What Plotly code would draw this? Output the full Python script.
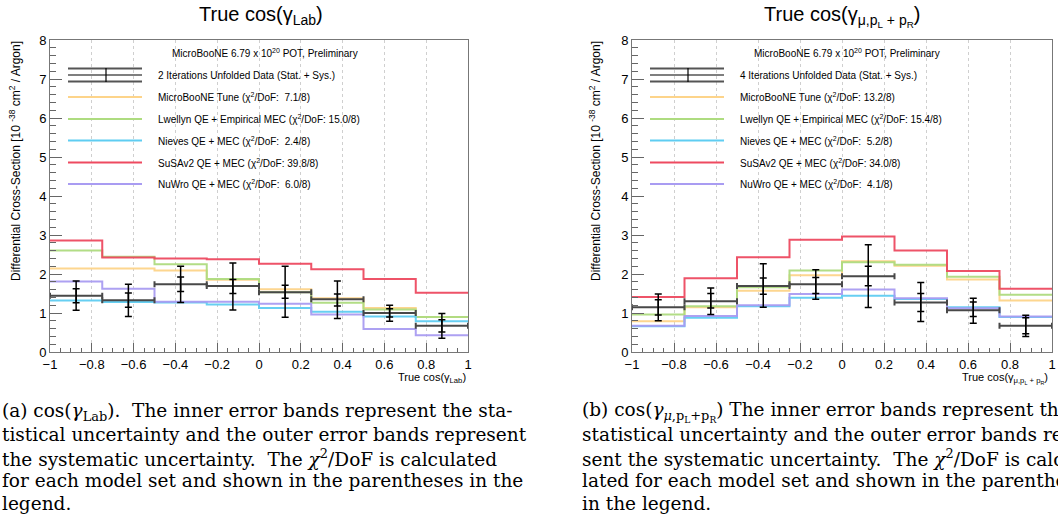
import plotly.graph_objects as go

W, H = 1058, 529

# ---------------- data ----------------
edges = [-1.0, -0.75, -0.5, -0.25, 0.0, 0.25, 0.5, 0.75, 1.0]
centers = [-0.875, -0.625, -0.375, -0.125, 0.125, 0.375, 0.625, 0.875]
half_width = [0.125] * 8

model_names = ["MicroBooNE Tune", "Lwellyn QE + Empirical MEC", "Nieves QE + MEC",
               "SuSAv2 QE + MEC", "NuWro QE + MEC"]
model_colors = ["#fdd48a", "#aedc80", "#5fcdf2", "#ee4a60", "#a99cf2"]

# panel (a): cos(gamma_Lab)
chi2_a = ["7.1/8", "15.0/8", "2.4/8", "39.8/8", "6.0/8"]
tune_a = [2.14, 2.14, 2.09, 1.85, 1.61, 1.38, 1.13, 0.90]
lwellyn_a = [2.60, 2.44, 2.25, 1.87, 1.53, 1.26, 1.09, 0.90]
nieves_a = [1.32, 1.28, 1.27, 1.22, 1.13, 1.03, 0.91, 0.79]
susav2_a = [2.86, 2.42, 2.40, 2.38, 2.26, 2.12, 1.87, 1.52]
nuwro_a = [1.81, 1.62, 1.29, 1.29, 1.24, 0.96, 0.59, 0.43]
data_a = [1.44, 1.33, 1.74, 1.69, 1.53, 1.35, 1.00, 0.67]
stat_lo_a = [1.26, 1.15, 1.55, 1.50, 1.38, 1.18, 0.90, 0.51]
stat_hi_a = [1.62, 1.51, 1.92, 1.86, 1.71, 1.49, 1.11, 0.83]
tot_lo_a = [1.07, 0.91, 1.27, 1.08, 0.89, 0.86, 0.79, 0.35]
tot_hi_a = [1.82, 1.74, 2.20, 2.28, 2.20, 1.82, 1.20, 0.99]

# panel (b): cos(gamma_mu,pL+pR)
chi2_b = ["13.2/8", "15.4/8", "5.2/8", "34.0/8", "4.1/8"]
tune_b = [0.79, 1.15, 1.57, 1.97, 2.33, 2.21, 1.86, 1.32]
lwellyn_b = [0.96, 1.17, 1.66, 2.09, 2.30, 2.24, 1.93, 1.47]
nieves_b = [0.66, 0.88, 1.17, 1.39, 1.44, 1.36, 1.15, 0.90]
susav2_b = [1.41, 1.89, 2.43, 2.88, 2.96, 2.60, 2.08, 1.62]
nuwro_b = [0.67, 0.92, 1.20, 1.49, 1.60, 1.38, 1.12, 0.91]
data_b = [1.15, 1.30, 1.69, 1.74, 1.94, 1.27, 1.07, 0.67]
stat_lo_b = [0.95, 1.13, 1.48, 1.50, 1.70, 1.04, 0.91, 0.47]
stat_hi_b = [1.34, 1.50, 1.90, 1.91, 2.20, 1.50, 1.28, 0.88]
tot_lo_b = [0.80, 0.96, 1.15, 1.35, 1.14, 0.78, 0.74, 0.40]
tot_hi_b = [1.49, 1.64, 2.26, 2.11, 2.75, 1.78, 1.38, 0.94]

x_ticks = [-1, -0.8, -0.6, -0.4, -0.2, 0, 0.2, 0.4, 0.6, 0.8, 1]
y_ticks = [0, 1, 2, 3, 4, 5, 6, 7, 8]

panels = [
    dict(models=[tune_a, lwellyn_a, nieves_a, susav2_a, nuwro_a], chi2=chi2_a,
         data=data_a, slo=stat_lo_a, shi=stat_hi_a, tlo=tot_lo_a, thi=tot_hi_a,
         iters="2 Iterations Unfolded Data (Stat. + Sys.)",
         title="True cos(γ<sub>Lab</sub>)", xtitle="True cos(γ<sub>Lab</sub>)",
         px0=50, px1=468, title_cx=261, ytitle_cx=15, xtitle_right=468),
    dict(models=[tune_b, lwellyn_b, nieves_b, susav2_b, nuwro_b], chi2=chi2_b,
         data=data_b, slo=stat_lo_b, shi=stat_hi_b, tlo=tot_lo_b, thi=tot_hi_b,
         iters="4 Iterations Unfolded Data (Stat. + Sys.)",
         title="True cos(γ<sub>μ,p<sub>L</sub> + p<sub>R</sub></sub>)",
         xtitle="True cos(γ<sub>μ,p<sub>L</sub> + p<sub>R</sub></sub>)",
         px0=632, px1=1052, title_cx=842, ytitle_cx=595, xtitle_right=1050),
]

PY_TOP, PY_BOT = 40, 352  # pixel rows of y=8 and y=0


def pxx(p):
    return p / W


def pxy(p):
    return 1 - p / H


SANS = "Liberation Sans, Arial, sans-serif"
SERIF = "DejaVu Serif, serif"

fig = go.Figure()
annotations = []
shapes = []

for i, P in enumerate(panels):
    ax = "" if i == 0 else str(i + 1)
    xref, yref = "x" + ax, "y" + ax
    # model step histograms
    for name, vals, col in zip(model_names, P["models"], model_colors):
        fig.add_trace(go.Scatter(
            x=edges, y=list(vals) + [vals[-1]], mode="lines",
            line=dict(color=col, width=2, shape="hv"), opacity=0.95,
            xaxis=xref, yaxis=yref, showlegend=False, hoverinfo="skip"))
    # data: total uncertainty
    d = P["data"]
    fig.add_trace(go.Scatter(
        x=centers, y=d, mode="markers", marker=dict(size=1, color="black"),
        error_y=dict(type="data", symmetric=False,
                     array=[h - v for h, v in zip(P["thi"], d)],
                     arrayminus=[v - l for l, v in zip(P["tlo"], d)],
                     color="black", thickness=1.5, width=3.5),
        error_x=dict(type="data", array=half_width, color="#484848",
                     thickness=2, width=3),
        xaxis=xref, yaxis=yref, showlegend=False, hoverinfo="skip"))
    # data: statistical uncertainty
    fig.add_trace(go.Scatter(
        x=centers, y=d, mode="markers", marker=dict(size=1, color="black"),
        error_y=dict(type="data", symmetric=False,
                     array=[h - v for h, v in zip(P["shi"], d)],
                     arrayminus=[v - l for l, v in zip(P["slo"], d)],
                     color="black", thickness=1.5, width=3.5),
        xaxis=xref, yaxis=yref, showlegend=False, hoverinfo="skip"))

    # ---- legend (drawn inside the axes) ----
    span = (P["px1"] - P["px0"]) / 2.0

    def dx(px, P=P, span=span):
        return -1 + (px - P["px0"]) / span

    def dy(py):
        return 8 * (PY_BOT - py) / (PY_BOT - PY_TOP)

    off = P["px0"] - 50
    lx0, lx1, tx = dx(68 + off), dx(142 + off), dx(156 + off)
    annotations.append(dict(
        x=dx(265 + off), y=dy(53), xref=xref, yref=yref, showarrow=False,
        text="MicroBooNE 6.79 x 10<sup>20</sup> POT, Preliminary",
        font=dict(family=SANS, size=10, color="black"), xanchor="center"))
    # data entry
    for py, col, wd in [(68.5, "#555555", 2), (75, "black", 1.2), (81.5, "#555555", 2)]:
        shapes.append(dict(type="line", xref=xref, yref=yref, x0=lx0, x1=lx1,
                           y0=dy(py), y1=dy(py), line=dict(color=col, width=wd)))
    shapes.append(dict(type="line", xref=xref, yref=yref, x0=dx(106 + off), x1=dx(106 + off),
                       y0=dy(68), y1=dy(82), line=dict(color="black", width=1.2)))
    annotations.append(dict(x=tx, y=dy(75), xref=xref, yref=yref, showarrow=False,
                            text=P["iters"], xanchor="left",
                            font=dict(family=SANS, size=10, color="black")))
    rows = [97, 119, 140.5, 162.5, 184]
    for name, col, c2, py in zip(model_names, model_colors, P["chi2"], rows):
        shapes.append(dict(type="line", xref=xref, yref=yref, x0=lx0, x1=lx1,
                           y0=dy(py), y1=dy(py), line=dict(color=col, width=2)))
        c2txt = c2 if len(c2) >= 6 else "\u00a0" + c2
        annotations.append(dict(
            x=tx, y=dy(py), xref=xref, yref=yref, showarrow=False, xanchor="left",
            text=f"{name} (χ<sup>2</sup>/DoF: {c2txt})",
            font=dict(family=SANS, size=10, color="black")))

    # titles
    annotations.append(dict(x=pxx(P["title_cx"]), y=pxy(1), xref="paper", yref="paper",
                            showarrow=False, xanchor="center", yanchor="top",
                            text=P["title"], font=dict(family=SANS, size=20, color="black")))
    annotations.append(dict(x=pxx(P["ytitle_cx"]), y=pxy(PY_TOP - 1), xref="paper", yref="paper",
                            showarrow=False, xanchor="center", yanchor="top", textangle=-90,
                            text="Differential Cross-Section [10 <sup>-38</sup> cm<sup>2</sup> / Argon]",
                            font=dict(family=SANS, size=12, color="black")))
    annotations.append(dict(x=pxx(P["xtitle_right"]), y=pxy(378), xref="paper", yref="paper",
                            showarrow=False, xanchor="right", yanchor="middle",
                            text=P["xtitle"], font=dict(family=SANS, size=11, color="black")))

# ---- captions ----
cap_a = [
    "(a) cos(<i>γ</i><sub>Lab</sub>).  The inner error bands represent the sta-",
    "tistical uncertainty and the outer error bands represent",
    "the systematic uncertainty.  The <i>χ</i><sup>2</sup>/DoF is calculated",
    "for each model set and shown in the parentheses in the",
    "legend.",
]
cap_b = [
    "(b) cos(<i>γ</i><sub><i>μ</i>,p<sub>L</sub>+p<sub>R</sub></sub>) The inner error bands represent the",
    "statistical uncertainty and the outer error bands repre-",
    "sent the systematic uncertainty.  The <i>χ</i><sup>2</sup>/DoF is calcu-",
    "lated for each model set and shown in the parentheses",
    "in the legend.",
]
cap_rows = [411.5, 434.5, 457.5, 480.5, 503.5]
for lines, x0 in [(cap_a, 0), (cap_b, 580)]:
    for txt, py in zip(lines, cap_rows):
        annotations.append(dict(x=pxx(x0), y=pxy(py), xref="paper", yref="paper",
                                showarrow=False, xanchor="left", yanchor="middle",
                                text=txt, font=dict(family=SERIF, size=18.5, color="black")))

axis_common = dict(
    showline=True, linecolor="#777777", linewidth=1, mirror=True,
    ticks="inside", tickcolor="#666666", zeroline=False, automargin=False,
    tickfont=dict(family=SANS, size=13, color="black"),
)
ydom = [pxy(PY_BOT), pxy(PY_TOP)]
layout = dict(
    width=W, height=H, margin=dict(l=0, r=0, t=0, b=0, autoexpand=False),
    paper_bgcolor="white", plot_bgcolor="white", showlegend=False,
    annotations=annotations, shapes=shapes,
)
for i, P in enumerate(panels):
    ax = "" if i == 0 else str(i + 1)
    layout["xaxis" + ax] = dict(
        axis_common, domain=[pxx(P["px0"]), pxx(P["px1"])], range=[-1, 1],
        anchor="y" + ax, tickvals=x_ticks, ticklen=9,
        showgrid=True, gridcolor="#cfcfcf", griddash="dot", gridwidth=1,
        minor=dict(dtick=0.05, tick0=-1, ticks="inside", ticklen=4, tickcolor="#666666",
                   showgrid=False),
    )
    layout["yaxis" + ax] = dict(
        axis_common, domain=ydom, range=[0, 8], anchor="x" + ax,
        tickvals=y_ticks, ticklen=12, showgrid=False,
        minor=dict(dtick=0.2, tick0=0, ticks="inside", ticklen=6, tickcolor="#666666",
                   showgrid=False),
    )
fig.update_layout(**layout)
fig.write_html(
    "out.html",
    config={"displayModeBar": False},
    post_script="document.body.style.margin='0';document.body.style.overflow='hidden';",
)
